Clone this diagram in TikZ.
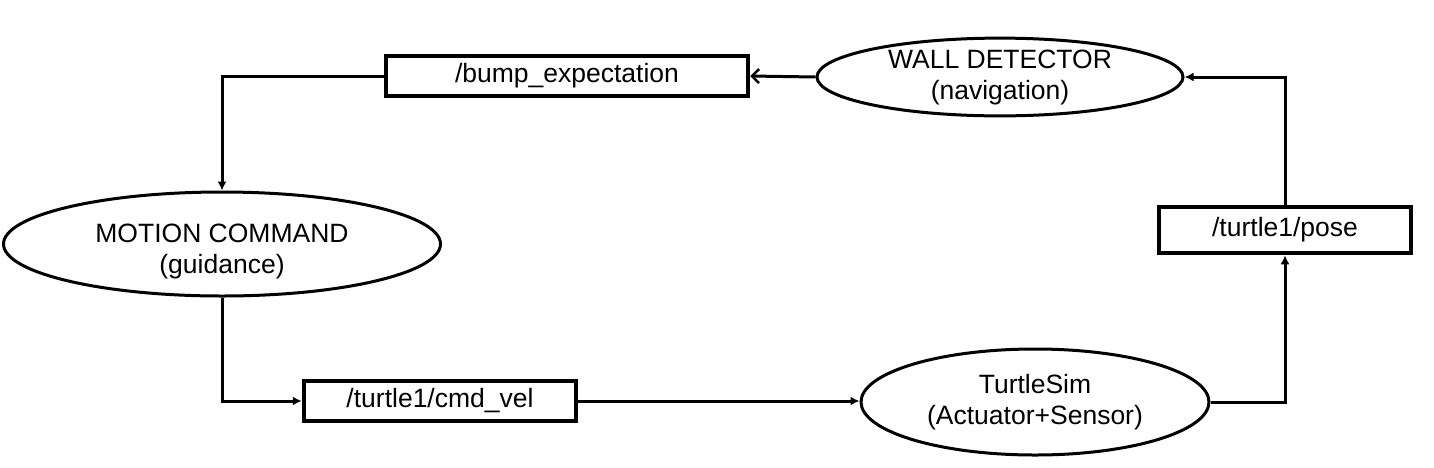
\documentclass[tikz,border=0pt]{standalone}
\usepackage{fontspec}
\setmainfont{Liberation Sans}
\usetikzlibrary{shapes.geometric,arrows.meta}

\begin{document}
\begin{tikzpicture}
                \tikzset{x=1pt, y=-1pt}
                \tikzstyle{topic}=[rectangle, draw, line width=4.5pt, inner sep=0pt]
                \tikzstyle{proc}=[ellipse, draw, line width=3pt, inner sep=0pt, align=center]
                \tikzstyle{link}=[line width=3pt, -{Latex[length=9pt, width=9pt]}]
                \fontsize{26.5}{31}\selectfont

                \useasboundingbox (0,0) rectangle (1434,467);

                \draw (567, 76)     node[topic, minimum width=362pt, minimum height=40pt]   (bump)  {/bump\_expectation};
                \draw (440, 401)    node[topic, minimum width=272pt, minimum height=40pt]   (cmdvel) {/turtle1/cmd\_vel};
                \draw (1285, 230)   node[topic, minimum width=252pt, minimum height=46pt]   (pose)  {/turtle1/pose};

                \draw (1000, 77)    node[proc, minimum width=366pt, minimum height=77pt]    (wall)  {WALL DETECTOR\\(navigation)};
                \draw (222, 244)    node[proc, minimum width=437pt, minimum height=104pt]   (motion) {\rule{0pt}{33pt}MOTION COMMAND\\(guidance)};
                \draw (1035, 402)   node[proc, minimum width=348pt, minimum height=106pt]   (turtle) {TurtleSim\\(Actuator+Sensor)};

                \draw [line width=3pt, -{Straight Barb[length=7pt, width=14pt, line width=2.5pt]}] (wall.west) -- (bump.east);
                \draw [link]        (bump.west) -| (motion.north);
                \draw [link]        (motion.south) |- (cmdvel.west);
                \draw [link]        (cmdvel.east) -- (turtle.west |- cmdvel.east);
                \draw [link]        (turtle.east) -| (pose.south);
                \draw [link]        (pose.north) |- (wall.east);
            \end{tikzpicture}
\end{document}
